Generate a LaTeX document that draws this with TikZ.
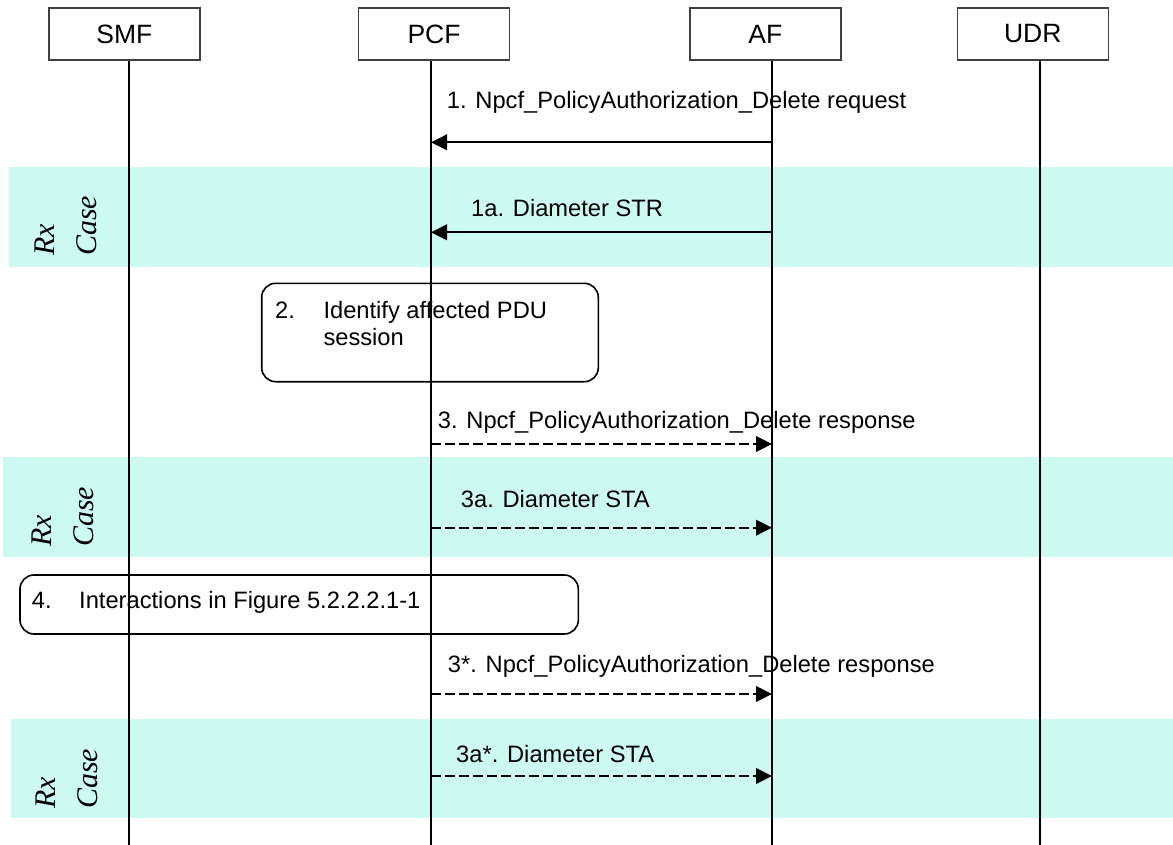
\documentclass[tikz,border=0pt]{standalone}
\usepackage{fontspec}
\setmainfont{Liberation Sans}
\newfontfamily\rxfont{Liberation Serif}
\usetikzlibrary{arrows.meta}
\definecolor{bandcol}{RGB}{204,250,242}
\begin{document}
\begin{tikzpicture}[x=1pt,y=-1pt,
  hdr/.style={draw=black!75, line width=1.2pt, minimum width=151pt, minimum height=52pt, inner sep=0pt, font=\fontsize{26.5}{30}\selectfont},
  life/.style={line width=2pt},
  msg/.style={anchor=base west, inner sep=0pt, font=\fontsize{23.7}{27}\selectfont},
  boxtxt/.style={anchor=north west, inner sep=0pt, align=left, font=\fontsize{23.7}{27}\selectfont},
  req/.style={line width=2.3pt, -{Triangle[length=16pt,width=15.5pt]}},
  rsp/.style={req, dash pattern=on 9.5pt off 4.5pt},
  stepbox/.style={draw, line width=1.6pt, rounded corners=14pt, inner sep=0pt},
  rxlabel/.style={rotate=90, anchor=north west, inner sep=0pt, align=left, font=\rxfont\itshape\fontsize{30}{42}\selectfont}]

\useasboundingbox (0,0) rectangle (1173,845);

% Rx case bands
\fill[bandcol] (9,167) rectangle (1173,267);
\fill[bandcol] (3,457) rectangle (1173,557);
\fill[bandcol] (11,719) rectangle (1173,818);

\node[rxlabel] (rx1) at (35,256) {Rx\\Case};
\node[rxlabel] (rx2) at (32,547) {Rx\\Case};
\node[rxlabel] (rx3) at (36,809) {Rx\\Case};

% header boxes
\node[hdr] (smf) at (124.4,34) {SMF};
\node[hdr] (pcf) at (434,34) {PCF};
\node[hdr] (af) at (765.4,34) {AF};
\node[hdr] (udr) at (1032.8,34) {UDR};

% step boxes
\node[stepbox, minimum width=336.6pt, minimum height=98.4pt] (s2) at (430,332.5) {};
\node[msg] (s2n) at (275,318.3) {2.};
\node[boxtxt] (s2t) at (323.3,301) {Identify affected PDU\\session};

\node[stepbox, minimum width=558.3pt, minimum height=59pt] (s4) at (299.15,604.5) {};
\node[msg] (s4n) at (31.7,608.3) {4.};
\node[msg] (s4t) at (79,608.3) {Interactions in Figure 5.2.2.2.1-1};

% lifelines
\coordinate (smfB) at (128.5,845);
\coordinate (pcfB) at (431,845);
\coordinate (afB) at (772,845);
\coordinate (udrB) at (1039.5,845);
\draw[life] (smf.south -| smfB) -- (smfB);
\draw[life] (pcf.south -| pcfB) -- (pcfB);
\draw[life] (af.south -| afB) -- (afB);
\draw[life] (udr.south -| udrB) -- (udrB);

% message rows
\coordinate (y1) at (0,142.3);
\coordinate (y1a) at (0,232.3);
\coordinate (y3) at (0,444);
\coordinate (y3a) at (0,527.7);
\coordinate (y3s) at (0,694);
\coordinate (y3as) at (0,776);

\draw[req] (afB |- y1) -- (pcfB |- y1);
\node[msg] (l1) at (446.7,108.3) {1. Npcf\_PolicyAuthorization\_Delete request};

\draw[req] (afB |- y1a) -- (pcfB |- y1a);
\node[msg] (l1a) at (471,216.7) {1a. Diameter STR};

\draw[rsp] (pcfB |- y3) -- (afB |- y3);
\node[msg] (l3) at (437.7,428.3) {3. Npcf\_PolicyAuthorization\_Delete response};

\draw[rsp] (pcfB |- y3a) -- (afB |- y3a);
\node[msg] (l3a) at (460.7,507.7) {3a. Diameter STA};

\draw[rsp] (pcfB |- y3s) -- (afB |- y3s);
\node[msg] (l3s) at (447.7,672.7) {3*. Npcf\_PolicyAuthorization\_Delete response};

\draw[rsp] (pcfB |- y3as) -- (afB |- y3as);
\node[msg] (l3as) at (456,762.7) {3a*. Diameter STA};
\end{tikzpicture}
\end{document}
